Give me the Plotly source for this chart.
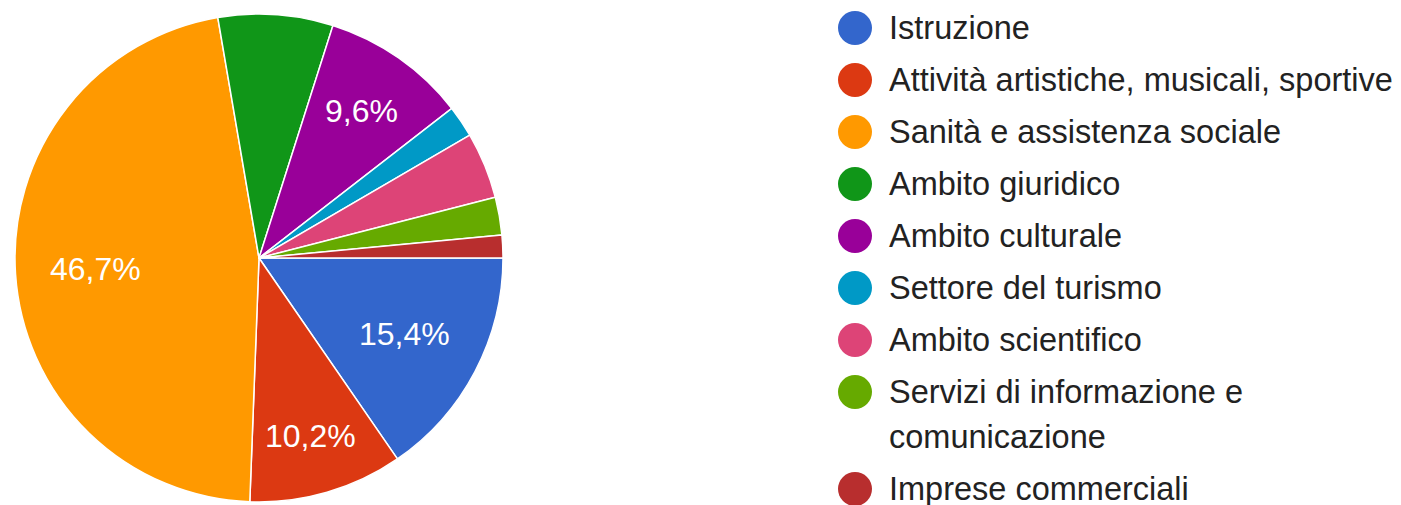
import math
import plotly.graph_objects as go

categories = [
    "Istruzione",
    "Attività artistiche, musicali, sportive",
    "Sanità e assistenza sociale",
    "Ambito giuridico",
    "Ambito culturale",
    "Settore del turismo",
    "Ambito scientifico",
    "Servizi di informazione e comunicazione",
    "Imprese commerciali",
]
values = [15.4, 10.2, 46.7, 7.6, 9.6, 2.1, 4.4, 2.5, 1.5]
colors = ["#3366cc", "#dc3912", "#ff9900", "#109618", "#990099",
          "#0099c6", "#dd4477", "#66aa00", "#b82e2e"]
# legend label line breaks, as shown in the chart
legend_lines = {
    "Servizi di informazione e comunicazione": ["Servizi di informazione e", "comunicazione"],
}

OFF = 8                      # page body margin of the html page
W, H = 1401 - OFF, 505 - OFF
FONT = "Liberation Sans, Arial, sans-serif"
LABEL_SIZE = 32
LEGEND_SIZE = 32.5

# pie geometry (pixels, figure coordinates)
cx, cy, r = 259 - OFF, 258 - OFF, 244

fig = go.Figure()
fig.add_trace(go.Pie(
    labels=categories,
    values=values,
    textinfo="none",
    marker=dict(colors=colors, line=dict(color="white", width=1.5)),
    sort=False,
    direction="clockwise",
    rotation=90,
    showlegend=False,
    hoverinfo="label+percent",
    domain=dict(x=[(cx - r) / W, (cx + r) / W],
                y=[(H - cy - r) / H, (H - cy + r) / H]),
))

annotations, shapes = [], []

# percentage labels inside the larger slices (horizontal text, outer edge at fixed radius)
CHAR_W = {",": 0.278, "%": 0.889}
total = sum(values)
start = 0.0  # degrees, counterclockwise from east; slices go clockwise
for v in values:
    pct = v / total * 100
    span = pct / 100 * 360
    mid = math.radians(start - span / 2)
    start -= span
    if pct < 9:
        continue
    txt = f"{pct:.1f}%".replace(".", ",")
    hw = sum(CHAR_W.get(c, 0.556) for c in txt) * LABEL_SIZE / 2
    hh = LABEL_SIZE * 0.37
    extent = hw * abs(math.cos(mid)) + hh * abs(math.sin(mid))
    d = 0.86 * r - extent
    px = cx + d * math.cos(mid)
    py = cy - d * math.sin(mid)
    annotations.append(dict(text=txt, xref="paper", yref="paper",
                            x=px / W, y=1 - py / H, xanchor="center", yanchor="middle",
                            showarrow=False,
                            font=dict(family=FONT, size=LABEL_SIZE, color="white")))

# custom legend with round markers
row_y = 28 - OFF
dot_x, text_x = 855 - OFF, 887 - OFF
for cat, col in zip(categories, colors):
    lines = legend_lines.get(cat, [cat])
    yp = 1 - row_y / H
    shapes.append(dict(type="circle", xref="paper", yref="paper",
                       xsizemode="pixel", ysizemode="pixel",
                       xanchor=dot_x / W, yanchor=yp,
                       x0=-17, x1=17, y0=-17, y1=17,
                       fillcolor=col, line=dict(width=0)))
    for k, ln in enumerate(lines):
        annotations.append(dict(text=ln, xref="paper", yref="paper",
                                x=text_x / W, y=1 - (row_y + 45 * k) / H,
                                xanchor="left", yanchor="middle", showarrow=False,
                                font=dict(family=FONT, size=LEGEND_SIZE, color="#222222")))
    row_y += 52 + 45 * (len(lines) - 1)

fig.update_layout(
    width=W, height=H,
    margin=dict(l=0, r=0, t=0, b=0),
    paper_bgcolor="white", plot_bgcolor="white",
    shapes=shapes, annotations=annotations,
    font=dict(family=FONT),
)

fig.write_html("out.html")
